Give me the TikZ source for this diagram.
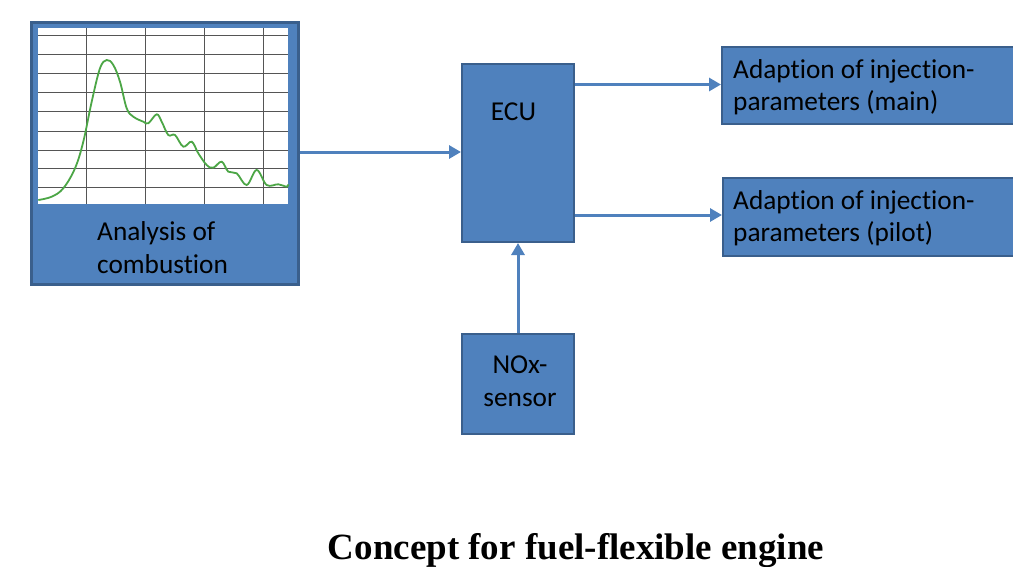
\documentclass[tikz,border=0pt]{standalone}
\usepackage{fontspec}
\setmainfont{Carlito}[Ligatures=NoCommon]
\newfontfamily\titlefont{Liberation Serif}
\usetikzlibrary{arrows.meta}
\definecolor{boxfill}{HTML}{4F81BD}
\definecolor{boxline}{HTML}{3A5F8C}
\definecolor{curvegreen}{HTML}{4CA646}
\definecolor{gridgray}{HTML}{555555}
\tikzset{
  blockbox/.style={draw=boxline, fill=boxfill, line width=2pt, inner sep=0pt},
  lbl/.style={inner sep=0pt, font=\fontsize{27.3}{32.6}\selectfont, align=left, text=black},
  conn/.style={draw=boxfill, line width=3pt, -{Triangle[length=12pt,width=13pt]}},
}
\begin{document}
\begin{tikzpicture}[x=1pt,y=-1pt]
\useasboundingbox (0,0) rectangle (1013,566);
% chart box
\node[blockbox, line width=3pt, minimum width=267pt, minimum height=262pt, anchor=north west] (chart) at (30,21) {};
\fill[white] (38,28) rectangle (288,204);
\foreach \gx in {86,145,204,263} \draw[gridgray, line width=1pt] (\gx,28) -- (\gx,204);
\foreach \gy in {35.7,54.5,73.5,92.5,111.7,131,150,168.5,187.7} \draw[gridgray, line width=1pt] (38,\gy) -- (288,\gy);
\draw[curvegreen, line width=1.8pt] plot[smooth, tension=0.6] coordinates {
(38.3,200) (51.7,196.7) (63.3,188.3) (75,168.3) (83.3,141.7) (91.7,101.7) (100,68.3) (106.7,60) (113.3,65) (120,81.7) (126.7,108.3) (133.3,116.7) (143.3,121.7) (148.3,123.3) (156.7,114.3) (161.7,121.7) (168.3,135) (175,135) (183.3,146.7) (191.7,141.7) (198.3,153.3) (206.7,165) (213.3,167.7) (221.7,161.7) (228.3,171.7) (236.7,173.3) (246.7,185) (256.7,170) (266.7,185) (278.3,184.3) (286.7,186.7) (288.3,184.3)};
\node[lbl, anchor=base west] (chartT) at (97,273.3) {Analysis of\\combustion};
% ECU
\node[blockbox, minimum width=112pt, minimum height=178pt, anchor=north west] (ecu) at (461,63) {};
\node[lbl, anchor=base] (ecuT) at (513.5,120.7) {ECU};
% NOx
\node[blockbox, minimum width=112pt, minimum height=100pt, anchor=north west] (nox) at (461,333) {};
\node[lbl, align=center, anchor=base] (noxT) at (520,406) {NOx-\\sensor};
% output boxes
\node[blockbox, minimum width=320pt, minimum height=77pt, anchor=north west] (main) at (721,46) {};
\node[lbl, anchor=base west] (mainT) at (733,110.7) {Adaption of injection-\\parameters (main)};
\node[blockbox, minimum width=320pt, minimum height=78pt, anchor=north west] (pilot) at (722,177) {};
\node[lbl, anchor=base west] (pilotT) at (733,241.7) {Adaption of injection-\\parameters (pilot)};
% connectors
\draw[conn] (chart.east |- 0,152) -- (ecu.west |- 0,152);
\draw[conn] (ecu.east |- 0,84.5) -- (main.west |- 0,84.5);
\draw[conn] (ecu.east |- 0,215) -- (pilot.west |- 0,215);
\draw[conn] (nox.north) -- (ecu.south);
% title
\node[inner sep=0pt, anchor=base, font=\titlefont\bfseries\fontsize{37}{44}\selectfont] (title) at (576,559) {Concept for fuel-flexible engine};
\end{tikzpicture}
\end{document}
